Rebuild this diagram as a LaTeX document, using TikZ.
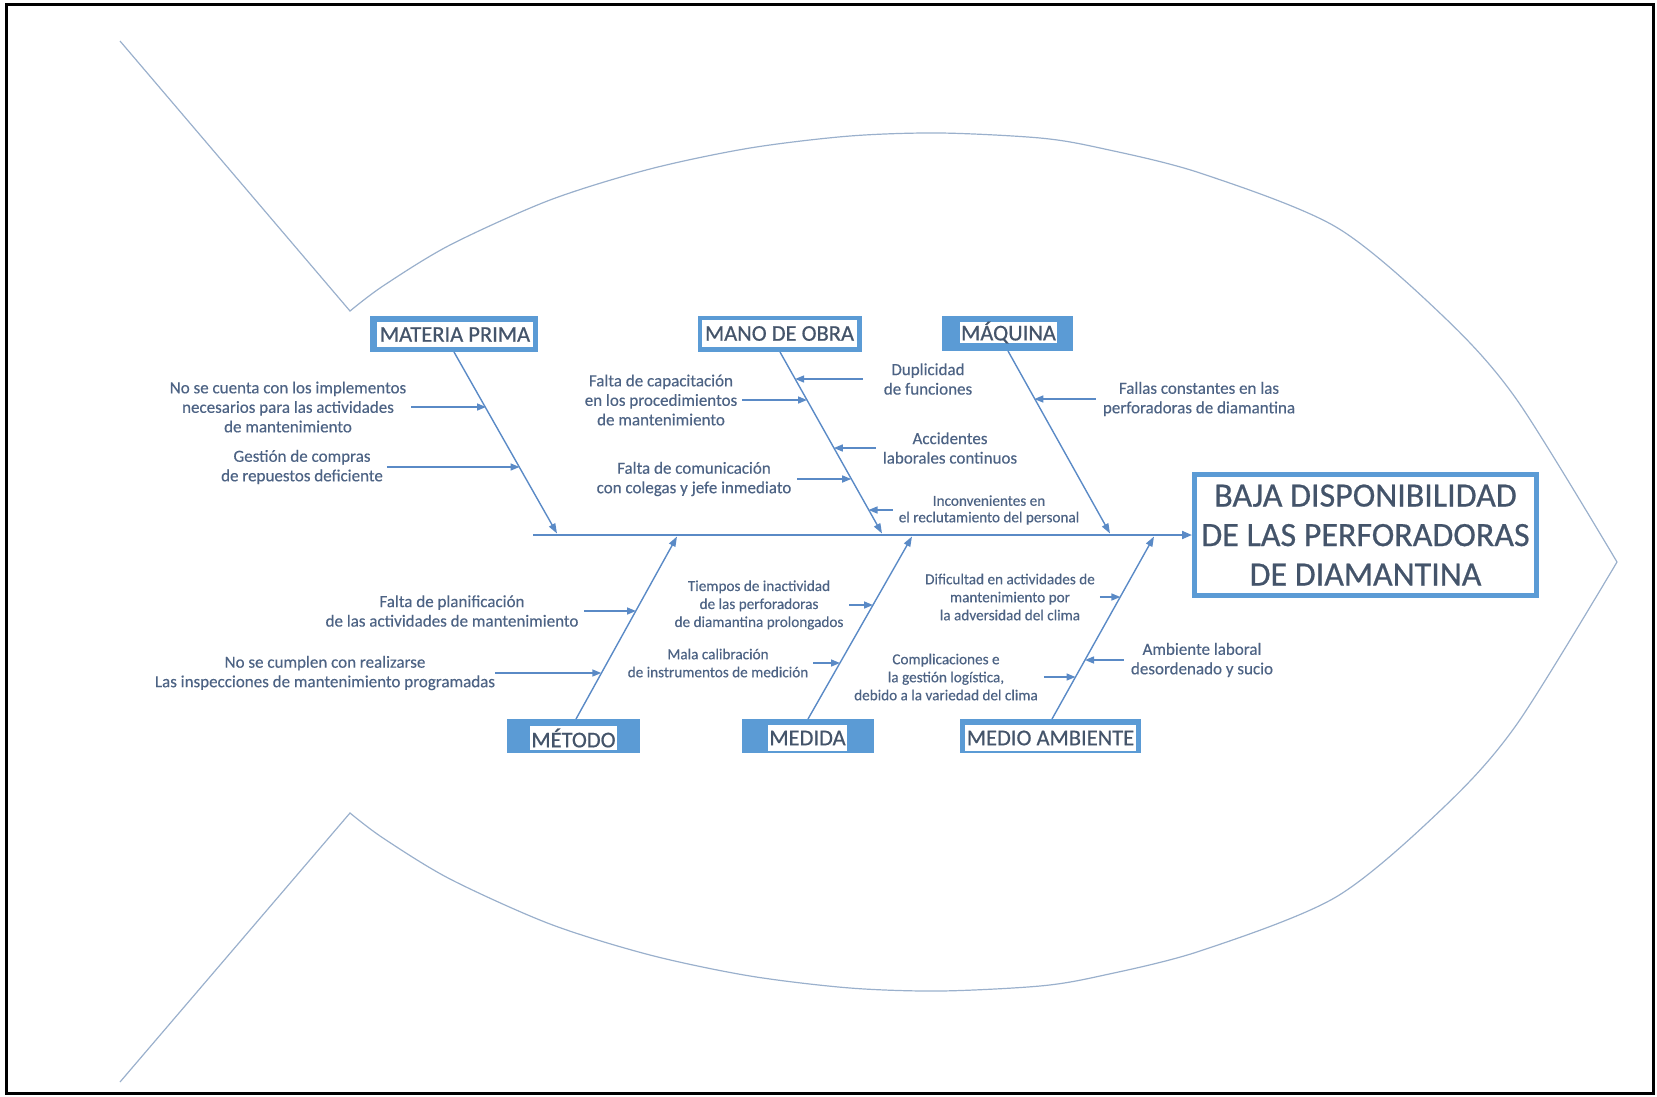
\documentclass[tikz,border=0pt]{standalone}
\usepackage{fontspec}
\setmainfont{Carlito}
\newfontfamily\headfont{Carlito}[FakeBold=0.6]
\newfontfamily\causefont{Carlito}[FakeBold=0.35]
\usetikzlibrary{arrows.meta}
\definecolor{boxblue}{HTML}{5B9BD5}
\definecolor{lineblue}{HTML}{5A8AC6}
\definecolor{fishline}{HTML}{9AB0CC}
\definecolor{headtxt}{HTML}{44546A}
\definecolor{causetxt}{HTML}{4D6384}
\begin{document}
\begin{tikzpicture}[x=1pt,y=-1pt,
  catbox/.style={fill=boxblue, draw=none, inner sep=0pt, outer sep=0pt},
  cattext/.style={fill=white, inner sep=0pt, outer sep=0pt, text=headtxt, font=\headfont\fontsize{22.5}{27}\selectfont},
  cause/.style={inner sep=0pt, outer sep=0pt, align=center, text=causetxt, font=\causefont\fontsize{17}{19.5}\selectfont},
  causesm/.style={cause, font=\causefont\fontsize{15.2}{18}\selectfont},
  bone/.style={draw=lineblue, line width=1.4pt, -{Triangle[length=10pt,width=7pt]}},
  cz/.style={draw=lineblue, line width=1.5pt, -{Triangle[length=9pt,width=7pt]}},
  spine/.style={draw=lineblue, line width=2pt, -{Triangle[length=10pt,width=8pt]}},
  fish/.style={draw=fishline, line width=1.2pt},
  effect/.style={draw=boxblue, line width=5pt, align=center, text=headtxt, font=\headfont\fontsize{34}{39.5}\selectfont, minimum width=342pt, minimum height=121pt, inner sep=0pt}
]
\useasboundingbox (0,0) rectangle (1657,1096);
% frame
\draw[line width=3pt] (6,4.5) rectangle (1653,1093);
% fish outline
\draw[fish] (120,41) -- plot[smooth] coordinates {(350,311) (383,286) (450,245) (550,200) (650,169) (750,148) (850,136) (940,133) (1040,138) (1100,148) (1200,173) (1336,227) (1444,317) (1517,400) (1617,562)};
\draw[fish] (120,1082) -- plot[smooth] coordinates {(350,813) (383,838) (450,879) (550,924) (650,955) (750,976) (850,988) (940,991) (1040,986) (1100,976) (1200,951) (1336,897) (1444,807) (1517,724) (1617,562)};

% effect
\node[effect] (eff) at (1365.5,535) {BAJA DISPONIBILIDAD\\DE LAS PERFORADORAS\\DE DIAMANTINA};

% category boxes
\node[catbox, minimum width=168pt, minimum height=36pt] (mpbox) at (454,334) {};
\node[cattext, minimum width=156pt, minimum height=25pt] (mp) at (455,334.5) {MATERIA PRIMA};
\node[catbox, minimum width=164pt, minimum height=36pt] (mobox) at (780,334) {};
\node[cattext, minimum width=155pt, minimum height=27pt] (mo) at (779.5,333.5) {MANO DE OBRA};
\node[catbox, minimum width=131pt, minimum height=35pt] (mqbox) at (1007.5,333.5) {};
\node[cattext, minimum width=97pt, minimum height=19pt] (mq) at (1008.5,332.5) {MÁQUINA};
\node[catbox, minimum width=133pt, minimum height=34pt] (mtbox) at (573.5,736) {};
\node[cattext, minimum width=87pt, minimum height=24pt] (mt) at (573.5,738) {MÉTODO};
\node[catbox, minimum width=132pt, minimum height=34pt] (mdbox) at (808,736) {};
\node[cattext, minimum width=79pt, minimum height=26pt] (md) at (807.5,738) {MEDIDA};
\node[catbox, minimum width=181pt, minimum height=34pt] (mabox) at (1050.5,736) {};
\node[cattext, minimum width=171pt, minimum height=26pt] (ma) at (1050.5,738) {MEDIO AMBIENTE};

% spine
\coordinate (spst) at (533,535);
\draw[spine] (spst) -- (eff.west);

% bone ends on spine
\coordinate (s1) at (557,533.5);
\coordinate (s2) at (882,533.5);
\coordinate (s3) at (1110,533.5);
\coordinate (s4) at (677,536.5);
\coordinate (s5) at (912,536.5);
\coordinate (s6) at (1154,536.5);

\draw[bone] (mpbox.south) -- (s1);
\draw[bone] (mobox.south) -- (s2);
\draw[bone] ([xshift=0.5pt]mqbox.south) -- (s3);
\draw[bone] ([xshift=2.5pt]mtbox.north) -- (s4);
\draw[bone] (mdbox.north) -- (s5);
\draw[bone] ([xshift=1.5pt]mabox.north) -- (s6);

% causes
\node[cause] (t1) at (288,407) {No se cuenta con los implementos\\necesarios para las actividades\\de mantenimiento};
\coordinate (c1) at (486,407);
\draw[cz, shorten <=5pt] (t1.east) -- (c1);

\node[cause] (t2) at (302,467) {Gestión de compras\\de repuestos deficiente};
\coordinate (c2) at (519.5,467);
\draw[cz, shorten <=4pt] (t2.east) -- (c2);

\node[cause] (t3) at (661,400) {Falta de capacitación\\en los procedimientos\\de mantenimiento};
\coordinate (c3) at (807,400);
\draw[cz, shorten <=5pt] (t3.east) -- (c3);

\node[cause] (t4) at (694,479) {Falta de comunicación\\con colegas y jefe inmediato};
\coordinate (c4) at (851.2,479);
\draw[cz, shorten <=6pt] (t4.east) -- (c4);

\node[cause] (t5) at (928,379) {Duplicidad\\de funciones};
\coordinate (c5) at (795.1,379);
\draw[cz, shorten <=21pt] (t5.west) -- (c5);

\node[cause] (t6) at (950,448) {Accidentes\\laborales continuos};
\coordinate (c6) at (833.8,448);
\draw[cz, shorten <=7pt] (t6.west) -- (c6);

\node[causesm, font=\causefont\fontsize{15.2}{16.5}\selectfont] (t7) at (989,510) {Inconvenientes en\\el reclutamiento del personal};
\coordinate (c7) at (868.5,510);
\draw[cz, shorten <=6pt] (t7.west) -- (c7);

\node[cause] (t8) at (1199,399) {Fallas constantes en las\\perforadoras de diamantina};
\coordinate (c8) at (1034.3,399);
\draw[cz, shorten <=7pt] (t8.west) -- (c8);

\node[cause] (t9) at (452,611) {Falta de planificación\\de las actividades de mantenimiento};
\coordinate (c9) at (636,611);
\draw[cz, shorten <=6pt] (t9.east) -- (c9);

\node[cause] (t10) at (325,673) {No se cumplen con realizarse\\Las inspecciones de mantenimiento programadas};
\coordinate (c10) at (601.3,673);
\draw[cz] (t10.east) -- (c10);

\node[causesm] (t11) at (759,605) {Tiempos de inactividad\\de las perforadoras\\de diamantina prolongados};
\coordinate (c11) at (873,605);
\draw[cz, shorten <=6pt] (t11.east) -- (c11);

\node[causesm] (t12) at (718,663) {Mala calibración\\de instrumentos de medición};
\coordinate (c12) at (840,663);
\draw[cz, shorten <=5pt] (t12.east) -- (c12);

\node[causesm] (t13) at (1010,597) {Dificultad en actividades de\\mantenimiento por\\la adversidad del clima};
\coordinate (c13) at (1120.4,597);
\draw[cz, shorten <=5pt] (t13.east) -- (c13);

\node[causesm] (t14) at (946,677) {Complicaciones e\\la gestión logística,\\debido a la variedad del clima};
\coordinate (c14) at (1075.5,677);
\draw[cz, shorten <=6pt] (t14.east) -- (c14);

\node[cause] (t15) at (1202,660) {Ambiente laboral\\desordenado y sucio};
\coordinate (c15) at (1085,660);
\draw[cz, shorten <=7pt] (t15.west) -- (c15);
\end{tikzpicture}
\end{document}
